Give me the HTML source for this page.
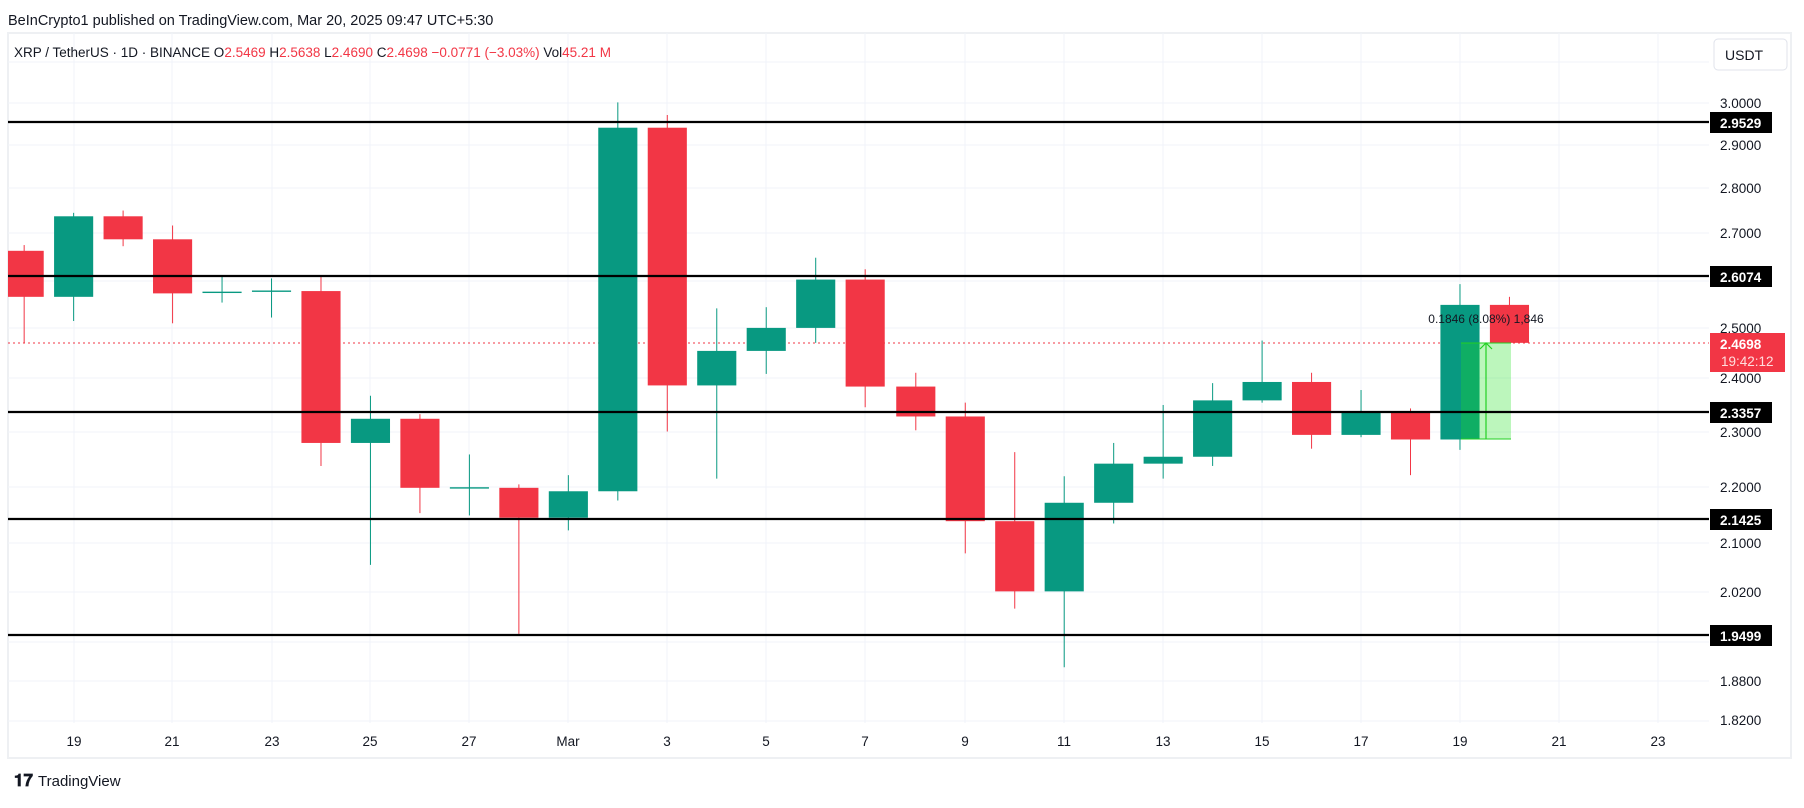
<!DOCTYPE html>
<html><head><meta charset="utf-8"><style>
body{margin:0;background:#fff;width:1804px;height:803px;overflow:hidden;font-family:"Liberation Sans",sans-serif}
</style></head><body>
<svg width="1804" height="803" xmlns="http://www.w3.org/2000/svg" font-family="Liberation Sans, sans-serif">
<rect width="1804" height="803" fill="#fff"/>
<text x="8" y="25" font-size="14.5" fill="#131722">BeInCrypto1 published on TradingView.com, Mar 20, 2025 09:47 UTC+5:30</text>
<rect x="8" y="33" width="1783" height="725" fill="#fff" stroke="#eef0f3" stroke-width="2"/>
<g stroke="#f0f3fa" stroke-width="1">
<line x1="8" x2="1709" y1="62" y2="62"/>
<line x1="8" x2="1709" y1="103" y2="103"/><line x1="8" x2="1709" y1="145" y2="145"/><line x1="8" x2="1709" y1="188" y2="188"/><line x1="8" x2="1709" y1="233" y2="233"/><line x1="8" x2="1709" y1="281" y2="281"/><line x1="8" x2="1709" y1="328" y2="328"/><line x1="8" x2="1709" y1="378" y2="378"/><line x1="8" x2="1709" y1="432" y2="432"/><line x1="8" x2="1709" y1="487" y2="487"/><line x1="8" x2="1709" y1="543" y2="543"/><line x1="8" x2="1709" y1="592" y2="592"/><line x1="8" x2="1709" y1="642" y2="642"/><line x1="8" x2="1709" y1="681" y2="681"/><line x1="8" x2="1709" y1="721" y2="721"/>
<line y1="33" y2="723" x1="74" x2="74"/><line y1="33" y2="723" x1="172" x2="172"/><line y1="33" y2="723" x1="272" x2="272"/><line y1="33" y2="723" x1="370" x2="370"/><line y1="33" y2="723" x1="469" x2="469"/><line y1="33" y2="723" x1="568" x2="568"/><line y1="33" y2="723" x1="667" x2="667"/><line y1="33" y2="723" x1="766" x2="766"/><line y1="33" y2="723" x1="865" x2="865"/><line y1="33" y2="723" x1="965" x2="965"/><line y1="33" y2="723" x1="1064" x2="1064"/><line y1="33" y2="723" x1="1163" x2="1163"/><line y1="33" y2="723" x1="1262" x2="1262"/><line y1="33" y2="723" x1="1361" x2="1361"/><line y1="33" y2="723" x1="1460" x2="1460"/><line y1="33" y2="723" x1="1559" x2="1559"/><line y1="33" y2="723" x1="1658" x2="1658"/>
</g>
<text x="14" y="57" font-size="13.5" fill="#131722">XRP / TetherUS · 1D · BINANCE  O<tspan fill="#f23645">2.5469</tspan>  H<tspan fill="#f23645">2.5638</tspan>  L<tspan fill="#f23645">2.4690</tspan>  C<tspan fill="#f23645">2.4698</tspan>  <tspan fill="#f23645">−0.0771 (−3.03%)</tspan>  Vol<tspan fill="#f23645">45.21 M</tspan></text>
<svg x="8" y="33" width="1701" height="690" viewBox="8 33 1701 690">
<line x1="8" x2="1709" y1="343" y2="343" stroke="#f23645" stroke-width="1" stroke-dasharray="2,3"/>
<g transform="scale(1.1505)" stroke-width="0.87">
<g fill="#f23645" stroke="#f23645">
<line x1="21" x2="21" y1="213" y2="298"/><rect x="4" y="218" width="34" height="40" stroke="none"/>
<line x1="107" x2="107" y1="183" y2="214"/><rect x="90" y="188" width="34" height="20" stroke="none"/>
<line x1="150" x2="150" y1="196" y2="281"/><rect x="133" y="208" width="34" height="47" stroke="none"/>
<line x1="279" x2="279" y1="240" y2="405"/><rect x="262" y="253" width="34" height="132" stroke="none"/>
<line x1="365" x2="365" y1="360" y2="446"/><rect x="348" y="364" width="34" height="60" stroke="none"/>
<line x1="451" x2="451" y1="421" y2="551"/><rect x="434" y="424" width="34" height="26" stroke="none"/>
<line x1="580" x2="580" y1="100" y2="375"/><rect x="563" y="111" width="34" height="224" stroke="none"/>
<line x1="752" x2="752" y1="234" y2="354"/><rect x="735" y="243" width="34" height="93" stroke="none"/>
<line x1="796" x2="796" y1="324" y2="374"/><rect x="779" y="336" width="34" height="26" stroke="none"/>
<line x1="839" x2="839" y1="350" y2="481"/><rect x="822" y="362" width="34" height="91" stroke="none"/>
<line x1="882" x2="882" y1="393" y2="529"/><rect x="865" y="453" width="34" height="61" stroke="none"/>
<line x1="1140" x2="1140" y1="324" y2="390"/><rect x="1123" y="332" width="34" height="46" stroke="none"/>
<line x1="1226" x2="1226" y1="355" y2="413"/><rect x="1209" y="358" width="34" height="24" stroke="none"/>
<line x1="1312" x2="1312" y1="258" y2="298"/><rect x="1295" y="265" width="34" height="33" stroke="none"/>
</g>
<g fill="#089981" stroke="#089981">
<line x1="64" x2="64" y1="185" y2="279"/><rect x="47" y="188" width="34" height="70" stroke="none"/>
<line x1="193" x2="193" y1="240" y2="263"/><rect x="176" y="253.5" width="34" height="1.2" stroke="none"/>
<line x1="236" x2="236" y1="242" y2="276"/><rect x="219" y="252.5" width="34" height="1.2" stroke="none"/>
<line x1="322" x2="322" y1="344" y2="491"/><rect x="305" y="364" width="34" height="21" stroke="none"/>
<line x1="408" x2="408" y1="395" y2="448"/><rect x="391" y="423.5" width="34" height="1.2" stroke="none"/>
<line x1="494" x2="494" y1="413" y2="461"/><rect x="477" y="427" width="34" height="23" stroke="none"/>
<line x1="537" x2="537" y1="89" y2="435"/><rect x="520" y="111" width="34" height="316" stroke="none"/>
<line x1="623" x2="623" y1="268" y2="416"/><rect x="606" y="305" width="34" height="30" stroke="none"/>
<line x1="666" x2="666" y1="267" y2="325"/><rect x="649" y="285" width="34" height="20" stroke="none"/>
<line x1="709" x2="709" y1="224" y2="298"/><rect x="692" y="243" width="34" height="42" stroke="none"/>
<line x1="925" x2="925" y1="414" y2="580"/><rect x="908" y="437" width="34" height="77" stroke="none"/>
<line x1="968" x2="968" y1="385" y2="455"/><rect x="951" y="403" width="34" height="34" stroke="none"/>
<line x1="1011" x2="1011" y1="352" y2="416"/><rect x="994" y="397" width="34" height="6" stroke="none"/>
<line x1="1054" x2="1054" y1="333" y2="405"/><rect x="1037" y="348" width="34" height="49" stroke="none"/>
<line x1="1097" x2="1097" y1="296" y2="350"/><rect x="1080" y="332" width="34" height="16" stroke="none"/>
<line x1="1183" x2="1183" y1="339" y2="380"/><rect x="1166" y="358" width="34" height="20" stroke="none"/>
<line x1="1269" x2="1269" y1="247" y2="391"/><rect x="1252" y="265" width="34" height="117" stroke="none"/>
</g>
</g>
<rect x="1461" y="343" width="50" height="96" fill="#22e022" fill-opacity="0.3"/>
<line x1="1461" x2="1511" y1="343" y2="343" stroke="#22d022" stroke-width="1"/>
<line x1="1461" x2="1511" y1="439" y2="439" stroke="#22d022" stroke-width="1"/>
<line x1="1486" x2="1486" y1="343" y2="439" stroke="#22d022" stroke-width="1.2"/>
<path d="M1480 349 L1486 343 L1492 349" fill="none" stroke="#22d022" stroke-width="1.2"/>
<text x="1486" y="323" font-size="12" text-anchor="middle" fill="#131722">0.1846 (8.08%) 1,846</text>
<g stroke="#000" stroke-width="2.2">
<line x1="8" x2="1709" y1="122" y2="122"/><line x1="8" x2="1709" y1="276" y2="276"/><line x1="8" x2="1709" y1="412" y2="412"/><line x1="8" x2="1709" y1="519" y2="519"/><line x1="8" x2="1709" y1="635" y2="635"/>
</g>
</svg>
<rect x="1714" y="39" width="73" height="31" rx="4" fill="#fff" stroke="#e0e3eb"/>
<text x="1725" y="60" font-size="14" fill="#131722">USDT</text>
<g font-size="13.5" fill="#131722">
<text x="1720" y="108">3.0000</text><text x="1720" y="150">2.9000</text><text x="1720" y="193">2.8000</text><text x="1720" y="238">2.7000</text><text x="1720" y="333">2.5000</text><text x="1720" y="383">2.4000</text><text x="1720" y="437">2.3000</text><text x="1720" y="492">2.2000</text><text x="1720" y="548">2.1000</text><text x="1720" y="597">2.0200</text><text x="1720" y="686">1.8800</text><text x="1720" y="725">1.8200</text>
</g>
<g font-size="13.5" font-weight="bold" fill="#fff">
<rect x="1710" y="112" width="62" height="21" fill="#000"/><text x="1720" y="128">2.9529</text>
<rect x="1710" y="266" width="62" height="21" fill="#000"/><text x="1720" y="282">2.6074</text>
<rect x="1710" y="402" width="62" height="21" fill="#000"/><text x="1720" y="418">2.3357</text>
<rect x="1710" y="509" width="62" height="21" fill="#000"/><text x="1720" y="525">2.1425</text>
<rect x="1710" y="625" width="62" height="21" fill="#000"/><text x="1720" y="641">1.9499</text>
<rect x="1710" y="333" width="75" height="39" fill="#f23645"/><text x="1720" y="349">2.4698</text>
<text x="1721" y="366" font-weight="normal" fill="#fdd">19:42:12</text>
</g>
<g font-size="13.5" fill="#131722" text-anchor="middle">
<text x="74" y="746">19</text><text x="172" y="746">21</text><text x="272" y="746">23</text><text x="370" y="746">25</text><text x="469" y="746">27</text><text x="568" y="746">Mar</text><text x="667" y="746">3</text><text x="766" y="746">5</text><text x="865" y="746">7</text><text x="965" y="746">9</text><text x="1064" y="746">11</text><text x="1163" y="746">13</text><text x="1262" y="746">15</text><text x="1361" y="746">17</text><text x="1460" y="746">19</text><text x="1559" y="746">21</text><text x="1658" y="746">23</text>
</g>
<text x="14" y="786" font-size="17" font-weight="bold" fill="#131722">𝟏𝟕</text>
<text x="38" y="786" font-size="15" fill="#131722">TradingView</text>
</svg>
</body></html>
